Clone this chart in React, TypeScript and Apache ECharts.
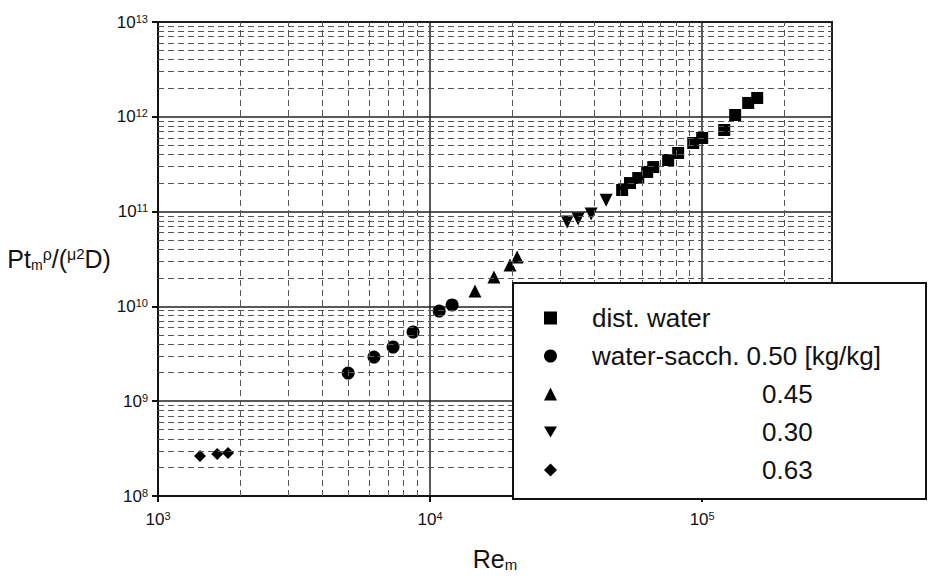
import React, { useEffect, useRef } from 'react';
import * as echarts from 'echarts';

const FONT = '"Liberation Sans", Arial, Helvetica, sans-serif';
const INK = '#111';

// Series data
const distWaterX = [50800, 54300, 58200, 62800, 66100, 75000, 81600, 92700, 100000, 120500, 132200, 147600, 159300];
const distWaterY = [1.69e11, 2.0e11, 2.26e11, 2.62e11, 2.95e11, 3.5e11, 4.15e11, 5.29e11, 5.98e11, 7.26e11, 1.045e12, 1.4e12, 1.58e12];
const sacch050X = [5000, 6220, 7310, 8660, 10800, 12050];
const sacch050Y = [1.98e9, 2.92e9, 3.73e9, 5.37e9, 8.93e9, 1.035e10];
const sacch045X = [14620, 17170, 19670, 20890];
const sacch045Y = [1.45e10, 2.04e10, 2.73e10, 3.32e10];
const sacch030X = [31900, 35000, 39080, 44360];
const sacch030Y = [7.76e10, 8.35e10, 9.44e10, 1.32e11];
const sacch063X = [1427, 1650, 1808];
const sacch063Y = [2.64e8, 2.78e8, 2.84e8];

const seriesNames = ['dist. water', 'water-sacch. 0.50 [kg/kg]', '0.45', '0.30', '0.63'];

// Axis ranges and minor grid positions
const xMin = 1000;
const xMax = 300000;
const yMin = 1e8;
const yMax = 1e13;
const xMinorGrid = [2e3, 3e3, 4e3, 5e3, 6e3, 7e3, 8e3, 9e3, 2e4, 3e4, 4e4, 5e4, 6e4, 7e4, 8e4, 9e4, 2e5];
const yMinorGrid: number[] = [];
[1e8, 1e9, 1e10, 1e11, 1e12].forEach((d) => {
  for (let k = 2; k <= 9; k++) yMinorGrid.push(k * d);
});

const zip = (xs: number[], ys: number[]) => xs.map((x, i) => [x, ys[i]]);

const powLabel = (v: number) => {
  const e = Math.log10(v);
  if (Math.abs(e - Math.round(e)) > 1e-6) return '';
  return `{b|10}{s|${Math.round(e)}}`;
};

const tickRich = {
  b: { fontSize: 17, lineHeight: 18, color: INK, fontFamily: FONT },
  s: { fontSize: 11, lineHeight: 11, color: INK, fontFamily: FONT, verticalAlign: 'top' as const },
};

export default function App() {
  const ref = useRef<HTMLDivElement>(null);
  useEffect(() => {
    const chart = echarts.init(ref.current!, null, { renderer: 'svg' });
    const markerStyle = { color: '#000', opacity: 1 };
    const option: any = {
      animation: false,
      backgroundColor: '#fff',
      textStyle: { fontFamily: FONT, color: INK },
      grid: {
        left: 158,
        top: 22,
        width: 674,
        height: 474,
        show: true,
        borderColor: INK,
        borderWidth: 2,
        backgroundColor: 'transparent',
      },
      xAxis: {
        type: 'log',
        logBase: 10,
        min: xMin,
        max: xMax,
        name: '{n|Re}{sub|m}',
        nameLocation: 'middle',
        nameGap: 50,
        nameTextStyle: {
          rich: {
            n: { fontSize: 25, color: INK, fontFamily: FONT, lineHeight: 26 },
            sub: { fontSize: 15, color: INK, fontFamily: FONT, verticalAlign: 'bottom', lineHeight: 15 },
          },
        },
        axisLine: { show: true, lineStyle: { color: INK, width: 2 } },
        axisTick: { show: true, length: 6, lineStyle: { color: INK, width: 2 } },
        axisLabel: { margin: 14, formatter: powLabel, rich: tickRich, showMaxLabel: false },
        splitLine: { show: true, lineStyle: { color: '#222', width: 1.5 } },
      },
      yAxis: {
        type: 'log',
        logBase: 10,
        min: yMin,
        max: yMax,
        name: '{n|Pt}{sub|m}{g|ρ}{n|/(}{g|μ}{sup|2}{n|D)}',
        nameLocation: 'middle',
        nameRotate: 0,
        nameGap: 30,
        nameTextStyle: {
          rich: {
            n: { fontSize: 25, color: INK, fontFamily: FONT, lineHeight: 26 },
            sub: { fontSize: 14, color: INK, fontFamily: FONT, verticalAlign: 'bottom', lineHeight: 14 },
            g: { fontSize: 16, color: INK, fontFamily: FONT, verticalAlign: 'top', lineHeight: 16 },
            sup: { fontSize: 15, color: INK, fontFamily: FONT, verticalAlign: 'top', lineHeight: 15 },
          },
        },
        axisLine: { show: true, lineStyle: { color: INK, width: 2 } },
        axisTick: { show: true, length: 6, lineStyle: { color: INK, width: 2 } },
        axisLabel: { margin: 10, formatter: powLabel, rich: tickRich },
        splitLine: { show: true, lineStyle: { color: '#222', width: 1.5 } },
      },
      legend: {
        data: seriesNames,
        orient: 'vertical',
        left: 544,
        top: 304,
        padding: 0,
        itemWidth: 13,
        itemHeight: 13,
        itemGap: 10,
        z: 110,
        selectedMode: false,
        formatter: (name: string) => (name.startsWith('0.') ? `{c|${name}}` : `{a|${name}}`),
        itemStyle: { opacity: 1 },
        textStyle: {
          fontSize: 26,
          lineHeight: 28,
          color: INK,
          fontFamily: FONT,
          rich: {
            a: { fontSize: 26, lineHeight: 28, color: INK, fontFamily: FONT, padding: [0, 0, 0, 30] },
            c: { fontSize: 26, lineHeight: 28, color: INK, fontFamily: FONT, padding: [0, 0, 0, 200] },
          },
        },
      },
      graphic: [
        {
          type: 'rect',
          z: 100,
          shape: { x: 513, y: 283, width: 413, height: 216 },
          style: { fill: '#fff', stroke: INK, lineWidth: 2 },
        },
      ],
      series: [
        {
          name: 'minor-grid',
          type: 'line',
          data: [],
          silent: true,
          z: 1,
          markLine: {
            silent: true,
            symbol: 'none',
            label: { show: false },
            lineStyle: { type: [6, 4], color: '#555', width: 1 },
            data: [
              ...xMinorGrid.map((v) => ({ xAxis: v })),
              ...yMinorGrid.map((v) => ({ yAxis: v })),
            ],
          },
        },
        {
          name: seriesNames[0],
          type: 'scatter',
          symbol: 'rect',
          symbolSize: 12,
          itemStyle: markerStyle,
          data: zip(distWaterX, distWaterY),
        },
        {
          name: seriesNames[1],
          type: 'scatter',
          symbol: 'circle',
          symbolSize: 13,
          itemStyle: markerStyle,
          data: zip(sacch050X, sacch050Y),
        },
        {
          name: seriesNames[2],
          type: 'scatter',
          symbol: 'triangle',
          symbolSize: 13,
          itemStyle: markerStyle,
          data: zip(sacch045X, sacch045Y),
        },
        {
          name: seriesNames[3],
          type: 'scatter',
          symbol: 'path://M0,0L20,0L10,17Z',
          symbolSize: 13,
          itemStyle: markerStyle,
          data: zip(sacch030X, sacch030Y),
        },
        {
          name: seriesNames[4],
          type: 'scatter',
          symbol: 'diamond',
          symbolSize: 12,
          itemStyle: markerStyle,
          data: zip(sacch063X, sacch063Y),
        },
      ],
    };
    chart.setOption(option);
    return () => chart.dispose();
  }, []);
  return (
    <div
      ref={ref}
      style={{ position: 'fixed', left: 0, top: 0, width: 928, height: 580, background: '#fff' }}
    />
  );
}
